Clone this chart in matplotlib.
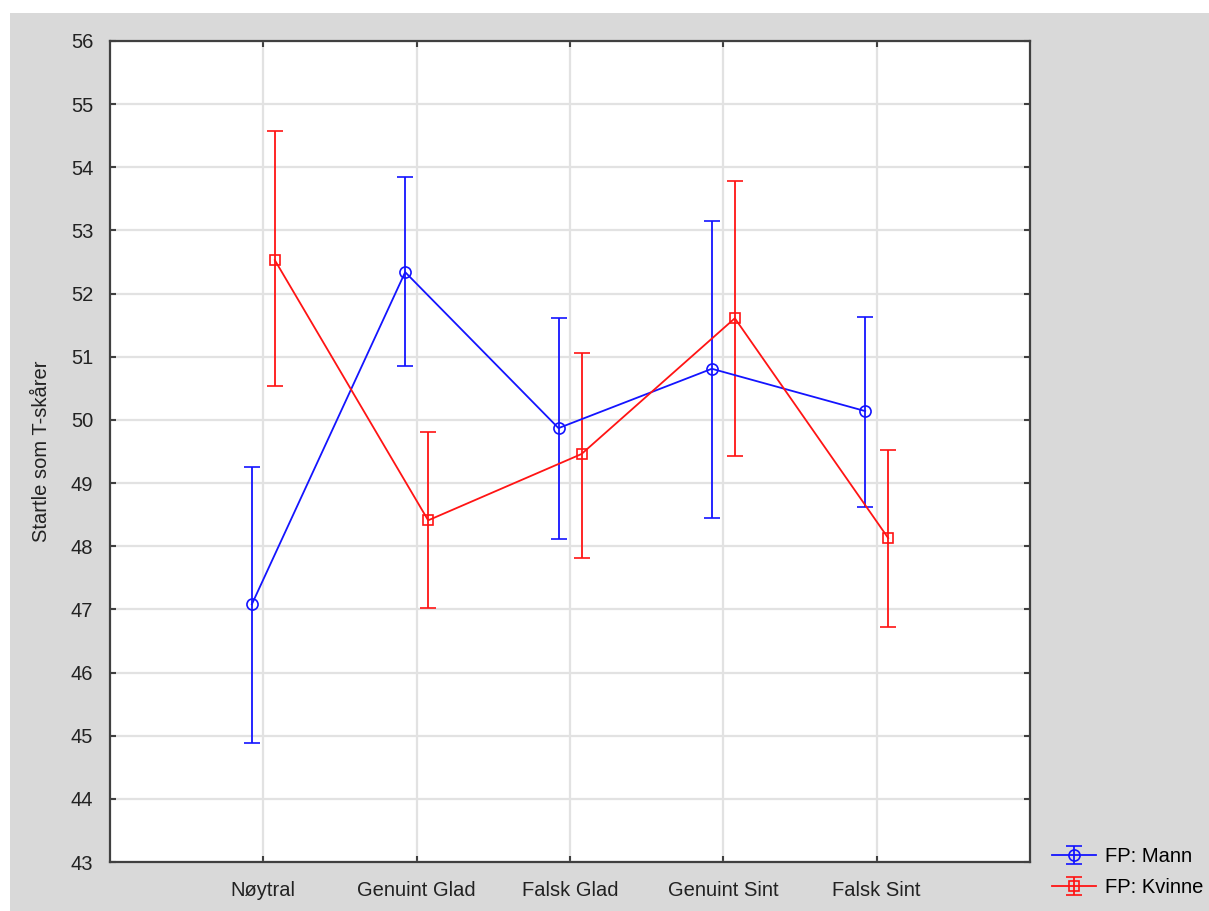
import matplotlib.pyplot as plt
import matplotlib.patches as mpatches
from matplotlib.legend_handler import HandlerErrorbar
import numpy as np

plt.rcParams['font.family'] = ['Liberation Sans', 'DejaVu Sans']

# data
categories = ['Nøytral', 'Genuint Glad', 'Falsk Glad', 'Genuint Sint', 'Falsk Sint']
mann_mean = [47.08, 52.34, 49.87, 50.81, 50.14]
mann_low = [44.88, 50.85, 48.11, 48.45, 48.62]
mann_high = [49.25, 53.85, 51.61, 53.15, 51.63]
kvinne_mean = [52.53, 48.41, 49.46, 51.61, 48.13]
kvinne_low = [50.54, 47.02, 47.81, 49.43, 46.72]
kvinne_high = [54.57, 49.81, 51.06, 53.78, 49.52]
yticks = list(range(43, 57))

x = np.arange(len(categories))
offset = 0.075
fs = 14.5

fig = plt.figure(figsize=(12.09, 9.11), dpi=100)
# gray panel behind the plot
fig.patches.append(mpatches.Rectangle((10 / 1209, 0), 1, 1 - 13 / 911,
                                      transform=fig.transFigure,
                                      facecolor='#d9d9d9', edgecolor='none',
                                      zorder=-10))
ax = fig.add_axes([110 / 1209, 49 / 911, 920 / 1209, 821 / 911])
ax.set_facecolor('white')

series = [
    ('FP: Mann', mann_mean, mann_low, mann_high, '#1414ff', 'o', -offset, 8),
    ('FP: Kvinne', kvinne_mean, kvinne_low, kvinne_high, '#ff1414', 's', offset, 7),
]
for name, mean, low, high, col, mk, dx, ms in series:
    mean = np.array(mean)
    err = [mean - np.array(low), np.array(high) - mean]
    ax.errorbar(x + dx, mean, yerr=err, color=col, marker=mk, ms=ms,
                mfc='none', mec=col, mew=1.2, lw=1.3, elinewidth=1.3,
                capsize=6, capthick=1.3, label=name, zorder=3)

ax.set_xlim(-1, 5)
ax.set_ylim(43, 56)
ax.set_xticks(x)
ax.set_xticklabels(categories, fontsize=fs, color='#222222')
ax.set_yticks(yticks)
ax.set_yticklabels([str(t) for t in yticks], fontsize=fs, color='#222222')
ax.grid(True, color='#e2e2e2', lw=1.6, zorder=0)
ax.set_axisbelow(True)
ax.tick_params(direction='in', length=4, width=1.5, color='#404040',
               top=True, right=True, pad=12)
ax.tick_params(axis='x', pad=14)
for s in ax.spines.values():
    s.set_color('#404040')
    s.set_linewidth(1.6)

ax.set_ylabel('Startle som T-skårer', fontsize=fs, color='#222222', labelpad=14)

ax.legend(loc='lower left', bbox_to_anchor=(1.024, -0.043), frameon=False,
          fontsize=fs, handlelength=2.2, handletextpad=0.45, labelspacing=0.6,
          borderaxespad=0, borderpad=0,
          handler_map={type(ax.containers[0]): HandlerErrorbar(yerr_size=0.45)})

plt.savefig('out.png', dpi=100)
